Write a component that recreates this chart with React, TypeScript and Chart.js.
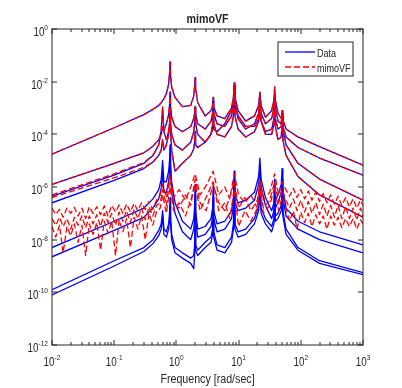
import React, { useEffect, useRef } from 'react';
import { Chart, registerables } from 'chart.js';

Chart.register(...registerables);

const FONT = '"Liberation Sans", Arial, Helvetica, sans-serif';
const TEXT_COLOR = '#262626';
const SX = 0.82; // horizontal text compression seen in the reference

// Frequency grid (rad/sec) shared by the measured responses
const freq = [0.01, 0.1, 0.3, 0.42, 0.52, 0.57, 0.6, 0.63, 0.69, 0.75, 0.775, 0.79, 0.805, 0.84, 0.95, 1.25, 1.7, 1.9, 1.96, 2.0, 2.04, 2.2, 2.9, 3.6, 3.82, 3.9, 3.98, 4.5, 6.0, 7.7, 8.25, 8.5, 8.75, 9.8, 13, 18, 21, 22, 23, 27, 34, 37, 38, 39, 43, 48.5, 50, 51.5, 58, 90, 200, 1000];

// Data: log10 of |H|
const data1 = [-4.75, -3.75, -3.25, -3.05, -2.9, -2.8, -2.72, -2.65, -2.45, -2.1, -1.7, -1.25, -1.75, -2.2, -2.6, -2.95, -2.9, -2.55, -2.2, -1.85, -2.25, -2.8, -3.3, -3.1, -2.9, -2.6, -2.95, -3.3, -3.4, -3.0, -2.6, -2.05, -2.6, -3.1, -3.5, -3.3, -2.9, -2.4, -2.9, -3.35, -3.1, -2.7, -2.2, -2.7, -3.2, -3.4, -3.3, -3.45, -3.8, -4.1, -4.47, -5.17];
const data2 = [-5.9, -5.1, -4.7, -4.45, -4.2, -4.0, -3.7, -3.85, -3.6, -3.25, -2.9, -2.4, -2.95, -3.35, -3.7, -3.9, -3.7, -3.4, -3.2, -2.95, -3.25, -3.6, -3.8, -3.5, -3.2, -2.75, -3.2, -3.6, -3.7, -3.3, -2.9, -2.25, -2.9, -3.4, -3.8, -3.6, -3.2, -2.6, -3.2, -3.6, -3.4, -3.0, -2.5, -3.0, -3.5, -3.6, -3.2, -3.7, -4.1, -4.5, -4.9, -5.55];
const data3 = [-6.35, -5.55, -5.1, -4.8, -4.4, -3.85, -2.96, -3.9, -4.2, -3.9, -3.6, -3.1, -3.6, -4.0, -4.4, -4.6, -4.3, -3.9, -3.6, -3.0, -3.6, -4.0, -4.3, -4.0, -3.6, -3.1, -3.6, -4.0, -4.1, -3.7, -3.3, -2.6, -3.3, -3.8, -4.1, -3.9, -3.5, -2.9, -3.5, -3.9, -3.8, -3.4, -2.9, -3.4, -3.8, -3.7, -3.1, -3.8, -4.4, -5.1, -5.7, -6.5];
const data4 = [-6.6, -5.75, -5.3, -5.05, -4.8, -4.6, -4.2, -4.6, -4.4, -4.0, -3.7, -3.3, -3.9, -4.6, -5.4, -5.1, -4.8, -4.55, -4.3, -3.9, -4.4, -4.5, -4.3, -4.0, -3.8, -3.4, -3.8, -3.9, -3.6, -3.1, -2.8, -2.15, -2.8, -3.3, -3.7, -3.7, -3.4, -2.8, -3.5, -4.0, -4.0, -3.6, -3.1, -3.7, -4.2, -4.1, -3.5, -4.2, -4.8, -5.6, -6.3, -7.15];
const data5 = [-8.3, -7.3, -6.8, -6.45, -6.1, -5.7, -5.0, -5.8, -5.8, -5.4, -5.0, -4.4, -5.1, -5.8, -6.6, -7.3, -7.6, -7.2, -6.8, -5.9, -6.9, -7.6, -7.5, -7.2, -6.8, -6.0, -6.9, -7.4, -7.3, -6.9, -6.4, -5.4, -6.3, -6.6, -6.5, -6.2, -5.6, -4.9, -5.7, -6.4, -6.9, -6.6, -5.7, -6.5, -6.3, -5.9, -5.3, -6.1, -6.8, -7.3, -7.7, -8.2];
const data6 = [-8.65, -7.65, -7.15, -6.8, -6.45, -6.05, -5.4, -6.2, -6.2, -5.8, -5.4, -4.8, -5.5, -6.2, -7.0, -7.7, -8.0, -7.6, -7.2, -6.3, -7.3, -7.9, -7.8, -7.5, -7.1, -6.4, -7.2, -7.7, -7.6, -7.2, -6.7, -5.8, -6.6, -6.9, -6.8, -6.5, -5.9, -5.3, -6.0, -6.7, -7.2, -6.9, -6.1, -6.8, -6.6, -6.2, -5.7, -6.4, -7.1, -7.6, -8.0, -8.5];
const data7 = [-9.9, -8.8, -8.3, -8.0, -7.65, -7.4, -6.9, -7.6, -7.7, -7.4, -7.0, -6.4, -7.1, -7.8, -8.3, -8.5, -8.7, -8.6, -8.2, -7.2, -8.2, -8.4, -8.1, -7.9, -7.6, -6.9, -7.7, -8.2, -8.3, -7.9, -7.4, -6.5, -7.4, -7.7, -7.6, -7.2, -6.7, -5.9, -6.8, -7.2, -7.5, -7.2, -6.3, -7.1, -7.0, -6.7, -6.1, -6.9, -7.6, -8.3, -8.8, -9.25];
const data8 = [-10.1, -9.0, -8.45, -8.15, -7.85, -7.6, -7.1, -7.8, -7.9, -7.6, -7.25, -6.7, -7.35, -8.0, -8.5, -8.7, -8.9, -9.1, -8.6, -7.5, -8.4, -8.6, -8.3, -8.1, -7.8, -7.2, -7.9, -8.4, -8.5, -8.1, -7.6, -6.8, -7.6, -7.9, -7.8, -7.4, -6.9, -6.2, -7.0, -7.4, -7.7, -7.4, -6.6, -7.3, -7.2, -6.9, -6.4, -7.1, -7.8, -8.4, -8.9, -9.33];

// mimoVF fit: log10 of |H| on the same grid for the well-fitted entries
const fit1 = [-4.75, -3.75, -3.25, -3.05, -2.9, -2.8, -2.72, -2.65, -2.45, -2.1, -1.7, -1.25, -1.75, -2.2, -2.6, -2.95, -2.9, -2.55, -2.2, -1.85, -2.25, -2.8, -3.3, -3.1, -2.9, -2.6, -2.95, -3.3, -3.4, -3.0, -2.6, -2.05, -2.6, -3.1, -3.5, -3.3, -2.9, -2.4, -2.9, -3.35, -3.1, -2.7, -2.2, -2.7, -3.2, -3.4, -3.3, -3.45, -3.8, -4.1, -4.47, -5.17];
const fit2 = [-5.9, -5.1, -4.7, -4.45, -4.2, -4.0, -3.7, -3.85, -3.6, -3.25, -2.9, -2.4, -2.95, -3.35, -3.7, -3.9, -3.7, -3.4, -3.2, -2.95, -3.25, -3.6, -3.8, -3.5, -3.2, -2.75, -3.2, -3.6, -3.7, -3.3, -2.9, -2.25, -2.9, -3.4, -3.8, -3.6, -3.2, -2.6, -3.2, -3.6, -3.4, -3.0, -2.5, -3.0, -3.5, -3.6, -3.2, -3.7, -4.1, -4.5, -4.9, -5.55];
const fit3 = [-6.3, -5.5, -5.07, -4.8, -4.4, -3.85, -2.96, -3.9, -4.2, -3.9, -3.6, -3.1, -3.6, -4.0, -4.4, -4.6, -4.3, -3.9, -3.6, -3.0, -3.6, -4.0, -4.3, -4.0, -3.6, -3.1, -3.6, -4.0, -4.1, -3.7, -3.3, -2.6, -3.3, -3.8, -4.1, -3.9, -3.5, -2.9, -3.5, -3.9, -3.8, -3.4, -2.9, -3.4, -3.8, -3.7, -3.1, -3.8, -4.4, -5.1, -5.7, -6.5];
const fit4 = [-6.4, -5.65, -5.25, -5.05, -4.8, -4.6, -4.2, -4.6, -4.4, -4.0, -3.7, -3.3, -3.9, -4.6, -5.4, -5.1, -4.8, -4.55, -4.3, -3.9, -4.4, -4.5, -4.3, -4.0, -3.8, -3.4, -3.8, -3.9, -3.6, -3.1, -2.8, -2.15, -2.8, -3.3, -3.7, -3.7, -3.4, -2.8, -3.5, -4.0, -4.0, -3.6, -3.1, -3.7, -4.2, -4.1, -3.5, -4.2, -4.8, -5.6, -6.3, -7.15];

// Finer grid for the rippled (poorly fitted) small entries
const freqFine = [
  0.01, 0.0115, 0.0132, 0.0151, 0.0174, 0.02, 0.0229, 0.0263, 0.0302, 0.0347,
  0.0398, 0.0457, 0.0525, 0.0603, 0.0692, 0.0794, 0.0912, 0.105, 0.12, 0.138,
  0.158, 0.182, 0.209, 0.24, 0.275, 0.316, 0.363, 0.417, 0.479,
  0.55, 0.6, 0.69, 0.79, 0.9, 1.1, 1.4, 1.7, 2.0, 2.4,
  3.0, 3.9, 4.8, 6.0, 7.2, 8.5, 10, 12.6, 15.8, 20,
  22, 25, 31.6, 38, 44, 50,
  57.5, 66, 75.9, 87.1, 100, 115, 132, 151, 174, 200,
  229, 263, 302, 347, 398, 457, 525, 603, 692, 794, 912, 1000,
];
const fit5 = [
  -6.8, -7.05, -6.85, -7.15, -6.8, -7.0, -6.78, -7.1, -6.8, -7.2,
  -6.75, -7.0, -6.75, -7.05, -6.72, -7.1, -6.7, -6.95, -6.68, -7.0,
  -6.65, -6.95, -6.62, -6.9, -6.6, -6.85, -6.55, -6.85, -6.5,
  -6.3, -5.9, -6.4, -5.5, -6.4, -6.1, -6.5, -6.0, -5.5, -6.3,
  -5.95, -5.4, -6.3, -6.0, -6.45, -5.5, -6.3, -6.6, -6.3, -6.8,
  -5.7, -6.5, -6.2, -5.5, -6.3, -5.8,
  -6.1, -6.35, -6.05, -6.4, -6.1, -6.45, -6.15, -6.5, -6.2, -6.55,
  -6.25, -6.6, -6.3, -6.65, -6.35, -6.7, -6.4, -6.75, -6.45, -6.8, -6.5, -6.7,
];
const fit6 = [
  -7.5, -7.9, -7.45, -8.5, -7.5, -7.85, -7.4, -8.1, -7.45, -8.6,
  -7.4, -7.8, -7.35, -8.4, -7.3, -7.75, -7.3, -8.6, -7.25, -7.7,
  -7.2, -8.3, -7.15, -7.6, -7.1, -8.0, -7.0, -7.45, -6.95,
  -6.8, -6.3, -7.0, -6.0, -6.9, -6.6, -7.1, -6.5, -5.9, -6.9,
  -6.4, -5.8, -6.9, -6.6, -7.2, -6.1, -7.5, -6.9, -7.3, -6.8,
  -6.1, -7.0, -6.7, -6.0, -6.9, -6.4,
  -6.8, -7.3, -6.9, -7.6, -6.95, -7.35, -7.0, -7.5, -7.05, -7.4,
  -7.1, -7.6, -7.1, -7.45, -7.15, -7.55, -7.2, -7.5, -7.2, -7.6, -7.25, -7.4,
];
const fit7 = [
  -7.2, -7.45, -7.15, -7.5, -7.2, -7.6, -7.15, -7.45, -7.1, -7.55,
  -7.1, -7.4, -7.05, -7.5, -7.0, -7.35, -7.0, -7.45, -6.95, -7.3,
  -6.9, -7.35, -6.85, -7.2, -6.8, -7.25, -6.75, -7.1, -6.7,
  -6.6, -6.1, -6.7, -5.7, -6.6, -6.8, -6.3, -6.7, -5.7, -6.6,
  -6.9, -5.9, -6.6, -6.9, -6.4, -5.8, -6.8, -6.4, -6.9, -6.5,
  -5.9, -6.8, -6.5, -5.8, -6.6, -6.1,
  -6.5, -6.8, -6.45, -6.9, -6.5, -6.95, -6.55, -7.0, -6.6, -7.05,
  -6.65, -7.1, -6.7, -7.15, -6.7, -7.2, -6.75, -7.2, -6.8, -7.25, -6.8, -7.1,
];

const dataSeries = [data1, data2, data3, data4, data5, data6, data7, data8];
const fitSeries = [fit1, fit2, fit3, fit4];
const fitFineSeries = [fit5, fit6, fit7];

const legendLabels = ['Data', 'mimoVF'];
const titleText = 'mimoVF';
const xAxisTitle = 'Frequency [rad/sec]';
const xTickValues = [0.01, 0.1, 1, 10, 100, 1000];
const xTickExps = ['-2', '-1', '0', '1', '2', '3'];
const yTickValues = [1, 1e-2, 1e-4, 1e-6, 1e-8, 1e-10, 1e-12];
const yTickExps = ['0', '-2', '-4', '-6', '-8', '-10', '-12'];
const xMinorMultipliers = [2, 3, 4, 5, 6, 7, 8, 9];

const BLUE = '#0000ff';
const RED = '#ff0000';

function toPoints(fs: number[], logs: number[]) {
  return fs.map((f, i) => ({ x: f, y: Math.pow(10, logs[i]) }));
}

function drawText(ctx: CanvasRenderingContext2D, text: string, x: number, y: number, size: number, weight = 'normal') {
  ctx.save();
  ctx.font = `${weight} ${size}px ${FONT}`;
  ctx.fillStyle = TEXT_COLOR;
  ctx.textAlign = 'left';
  ctx.textBaseline = 'alphabetic';
  ctx.translate(x, y);
  ctx.scale(SX, 1);
  ctx.fillText(text, 0, 0);
  ctx.restore();
}

function textWidth(ctx: CanvasRenderingContext2D, text: string, size: number, weight = 'normal') {
  ctx.save();
  ctx.font = `${weight} ${size}px ${FONT}`;
  const w = ctx.measureText(text).width * SX;
  ctx.restore();
  return w;
}

function drawPow(ctx: CanvasRenderingContext2D, exp: string, x: number, baseline: number, align: 'center' | 'right') {
  const wb = textWidth(ctx, '10', 12);
  const we = textWidth(ctx, exp, 8);
  const total = wb + we;
  const left = align === 'center' ? x - total / 2 : x - total;
  drawText(ctx, '10', left, baseline, 12);
  drawText(ctx, exp, left + wb, baseline - 6, 8);
}

const decorPlugin = {
  id: 'decor',
  afterDraw(chart: any) {
    const { ctx, chartArea: a, scales } = chart;
    const xs = scales.x;
    const ys = scales.y;
    ctx.save();
    ctx.strokeStyle = TEXT_COLOR;
    ctx.lineWidth = 1;
    ctx.setLineDash([]);
    ctx.strokeRect(a.left, a.top, a.right - a.left, a.bottom - a.top);

    ctx.beginPath();
    xTickValues.forEach((v) => {
      const px = Math.round(xs.getPixelForValue(v));
      ctx.moveTo(px, a.bottom); ctx.lineTo(px, a.bottom - 5);
      ctx.moveTo(px, a.top); ctx.lineTo(px, a.top + 5);
    });
    for (let d = 0; d < xTickValues.length - 1; d++) {
      xMinorMultipliers.forEach((m) => {
        const px = Math.round(xs.getPixelForValue(xTickValues[d] * m));
        ctx.moveTo(px, a.bottom); ctx.lineTo(px, a.bottom - 3);
        ctx.moveTo(px, a.top); ctx.lineTo(px, a.top + 3);
      });
    }
    yTickValues.forEach((v) => {
      const py = Math.round(ys.getPixelForValue(v));
      ctx.moveTo(a.left, py); ctx.lineTo(a.left + 5, py);
      ctx.moveTo(a.right, py); ctx.lineTo(a.right - 5, py);
    });
    ctx.stroke();

    xTickValues.forEach((v, i) => {
      drawPow(ctx, xTickExps[i], xs.getPixelForValue(v), a.bottom + 21, 'center');
    });
    yTickValues.forEach((v, i) => {
      drawPow(ctx, yTickExps[i], a.left - 4, ys.getPixelForValue(v) + 7, 'right');
    });

    const cx = (a.left + a.right) / 2;
    const tw = textWidth(ctx, titleText, 13, 'bold');
    drawText(ctx, titleText, cx - tw / 2, a.top - 6.3, 13, 'bold');
    const xw = textWidth(ctx, xAxisTitle, 13);
    drawText(ctx, xAxisTitle, cx - xw / 2, a.bottom + 38, 13);

    // legend
    const lx = 278, ly = 42, lw = 75, lh = 34;
    ctx.fillStyle = '#ffffff';
    ctx.fillRect(lx, ly, lw, lh);
    ctx.strokeStyle = TEXT_COLOR;
    ctx.lineWidth = 1;
    ctx.strokeRect(lx, ly, lw, lh);
    const rows = [
      { y: 52, color: BLUE, dash: [] as number[] },
      { y: 67, color: RED, dash: [6, 3] },
    ];
    rows.forEach((r, i) => {
      ctx.beginPath();
      ctx.strokeStyle = r.color;
      ctx.lineWidth = 1.3;
      ctx.setLineDash(r.dash);
      ctx.moveTo(285, r.y);
      ctx.lineTo(315, r.y);
      ctx.stroke();
      ctx.setLineDash([]);
      drawText(ctx, legendLabels[i], 317, r.y + 4.5, 11);
    });
    ctx.restore();
  },
};

export default function App() {
  const ref = useRef<HTMLCanvasElement>(null);
  useEffect(() => {
    document.body.style.margin = '0';
    const canvas = ref.current;
    if (!canvas) return;
    const common = { pointRadius: 0, tension: 0, borderWidth: 1.3, borderJoinStyle: 'round' };
    const datasets: any[] = [];
    dataSeries.forEach((s, i) => {
      datasets.push({
        ...common,
        label: i === 0 ? legendLabels[0] : `${legendLabels[0]} ${i + 1}`,
        data: toPoints(freq, s),
        borderColor: BLUE,
        order: 1,
      });
    });
    fitSeries.forEach((s, i) => {
      datasets.push({
        ...common,
        label: i === 0 ? legendLabels[1] : `${legendLabels[1]} ${i + 1}`,
        data: toPoints(freq, s),
        borderColor: RED,
        borderDash: [6, 3],
        order: 0,
      });
    });
    fitFineSeries.forEach((s, i) => {
      datasets.push({
        ...common,
        label: `${legendLabels[1]} ${i + 5}`,
        data: toPoints(freqFine, s),
        borderColor: RED,
        borderDash: [6, 3],
        order: 0,
      });
    });

    const chart = new Chart(canvas, {
      type: 'line',
      data: { datasets },
      options: {
        animation: false,
        responsive: false,
        devicePixelRatio: 1,
        events: [],
        layout: { padding: { top: 29, right: 39, left: 0, bottom: 0 } },
        plugins: { legend: { display: false }, tooltip: { enabled: false }, title: { display: false } },
        scales: {
          x: {
            type: 'logarithmic',
            min: 0.01,
            max: 1000,
            ticks: { display: false },
            grid: { display: false },
            border: { display: false },
            afterFit: (scale: any) => { scale.height = 43; },
          },
          y: {
            type: 'logarithmic',
            min: 1e-12,
            max: 1,
            ticks: { display: false },
            grid: { display: false },
            border: { display: false },
            afterFit: (scale: any) => { scale.width = 52; },
          },
        },
      } as any,
      plugins: [decorPlugin],
    });
    return () => chart.destroy();
  }, []);
  return (
    <div style={{ width: 402, height: 388, background: '#ffffff' }}>
      <canvas ref={ref} width={402} height={388} style={{ display: 'block', width: 402, height: 388 }} />
    </div>
  );
}
